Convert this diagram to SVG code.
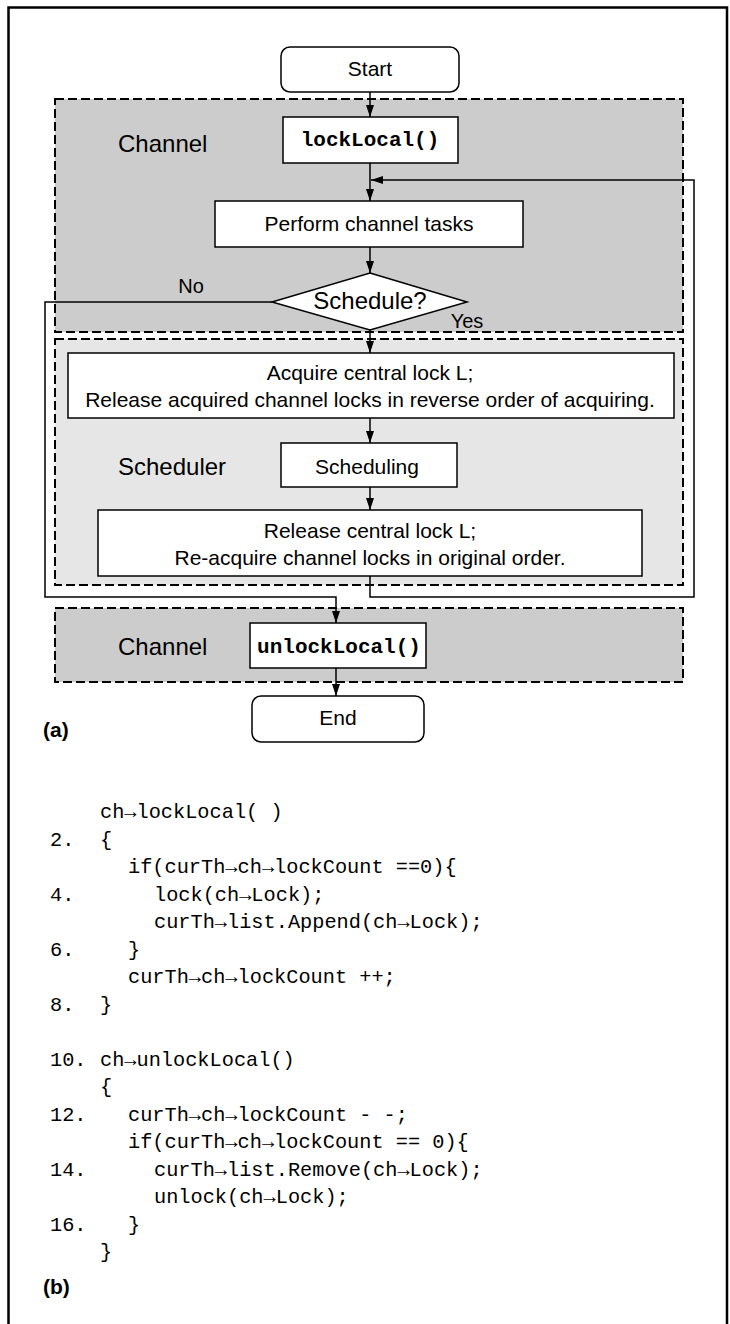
<svg xmlns="http://www.w3.org/2000/svg" width="730" height="1324" viewBox="0 0 730 1324">
<style>
.frame{fill:none;stroke:#000;stroke-width:2.5}
.region{stroke:#000;stroke-width:2;stroke-dasharray:9,4}
.dark{fill:#cccccc}
.light{fill:#e6e6e6}
.box{fill:#fff;stroke:#000;stroke-width:1.5}
.conn{fill:none;stroke:#000;stroke-width:1.5}
.t{font-family:"Liberation Sans",Arial,sans-serif;font-size:21px;fill:#000;text-anchor:middle}
.lbl{font-family:"Liberation Sans",Arial,sans-serif;font-size:24px;fill:#000}
.mb{font-family:"Liberation Mono","Courier New",monospace;font-size:21px;font-weight:bold;fill:#000;text-anchor:middle}
.code{font-family:"Liberation Mono","Courier New",monospace;font-size:20.3px;fill:#000}
.cap{font-family:"Liberation Sans",Arial,sans-serif;font-size:21px;font-weight:bold;fill:#000}
</style>
<defs>
<marker id="ah" viewBox="0 0 12 8" refX="12" refY="4" markerWidth="12" markerHeight="8" markerUnits="userSpaceOnUse" orient="auto">
<path d="M0,0 L12,4 L0,8 z" fill="#000"/>
</marker>
</defs>
<rect width="730" height="1324" fill="#fff"/>
<path class="frame" d="M8.5,1324 V7.5 H727 V1324"/>

<g id="region-channel-top">
<rect class="region dark" x="55" y="99" width="628" height="233"/>
<text class="lbl" x="118" y="152">Channel</text>
</g>
<g id="region-scheduler">
<rect class="region light" x="55" y="339" width="628" height="246"/>
<text class="lbl" x="118" y="475">Scheduler</text>
</g>
<g id="region-channel-bottom">
<rect class="region dark" x="55" y="608" width="628" height="74"/>
<text class="lbl" x="118" y="655">Channel</text>
</g>

<g id="connectors">
<path class="conn" d="M370,92 V117" marker-end="url(#ah)"/>
<path class="conn" d="M370,163 V201" marker-end="url(#ah)"/>
<path class="conn" d="M370,247 V273" marker-end="url(#ah)"/>
<path class="conn" d="M370,330 V353" marker-end="url(#ah)"/>
<path class="conn" d="M370,418 V443" marker-end="url(#ah)"/>
<path class="conn" d="M370,487 V510" marker-end="url(#ah)"/>
<path class="conn" d="M370,576 V597 H694 V180 H371" marker-end="url(#ah)"/>
<path class="conn" d="M272,302 H45 V597 H336 V623" marker-end="url(#ah)"/>
<path class="conn" d="M336,668 V696" marker-end="url(#ah)"/>
<text class="t" x="191" y="293" style="font-size:20px">No</text>
<text class="t" x="467" y="328" style="font-size:20px">Yes</text>
</g>

<g id="start">
<rect class="box" x="281" y="47" width="178" height="45" rx="9"/>
<text class="t" x="370" y="76">Start</text>
</g>
<g id="lockLocal">
<rect class="box" x="283" y="117" width="175" height="46"/>
<text class="mb" x="370" y="146">lockLocal()</text>
</g>
<g id="perform">
<rect class="box" x="215" y="201" width="308" height="46"/>
<text class="t" x="369" y="231">Perform channel tasks</text>
</g>
<g id="schedule-decision">
<polygon class="box" points="370,273 467,302 370,330 272,302"/>
<text class="t" x="370" y="309" style="font-size:24px">Schedule?</text>
</g>
<g id="acquire">
<rect class="box" x="68" y="353" width="606" height="65"/>
<text class="t" x="370" y="380">Acquire central lock L;</text>
<text class="t" x="370" y="407">Release acquired channel locks in reverse order of acquiring.</text>
</g>
<g id="scheduling">
<rect class="box" x="281" y="443" width="176" height="44"/>
<text class="t" x="367" y="474">Scheduling</text>
</g>
<g id="release">
<rect class="box" x="98" y="510" width="544" height="66"/>
<text class="t" x="370" y="538">Release central lock L;</text>
<text class="t" x="370" y="565">Re-acquire channel locks in original order.</text>
</g>
<g id="unlockLocal">
<rect class="box" x="250" y="623" width="176" height="45"/>
<text class="mb" x="339" y="653">unlockLocal()</text>
</g>
<g id="end">
<rect class="box" x="252" y="696" width="172" height="46" rx="9"/>
<text class="t" x="338" y="725">End</text>
</g>

<text class="cap" x="43" y="737">(a)</text>

<g id="code">
<text class="code" x="100" y="818">ch→lockLocal( )</text>
<text class="code" x="50" y="845.5">2.</text>
<text class="code" x="100" y="845.5">{</text>
<text class="code" x="128" y="873">if(curTh→ch→lockCount ==0){</text>
<text class="code" x="50" y="900.5">4.</text>
<text class="code" x="154" y="900.5">lock(ch→Lock);</text>
<text class="code" x="154" y="928">curTh→list.Append(ch→Lock);</text>
<text class="code" x="50" y="955.5">6.</text>
<text class="code" x="128" y="955.5">}</text>
<text class="code" x="128" y="983">curTh→ch→lockCount ++;</text>
<text class="code" x="50" y="1010.5">8.</text>
<text class="code" x="100" y="1010.5">}</text>
<text class="code" x="50" y="1065.5">10.</text>
<text class="code" x="100" y="1065.5">ch→unlockLocal()</text>
<text class="code" x="100" y="1093">{</text>
<text class="code" x="50" y="1120.5">12.</text>
<text class="code" x="128" y="1120.5">curTh→ch→lockCount - -;</text>
<text class="code" x="128" y="1148">if(curTh→ch→lockCount == 0){</text>
<text class="code" x="50" y="1175.5">14.</text>
<text class="code" x="154" y="1175.5">curTh→list.Remove(ch→Lock);</text>
<text class="code" x="154" y="1203">unlock(ch→Lock);</text>
<text class="code" x="50" y="1230.5">16.</text>
<text class="code" x="128" y="1230.5">}</text>
<text class="code" x="100" y="1258">}</text>
</g>

<text class="cap" x="43" y="1294">(b)</text>
</svg>
